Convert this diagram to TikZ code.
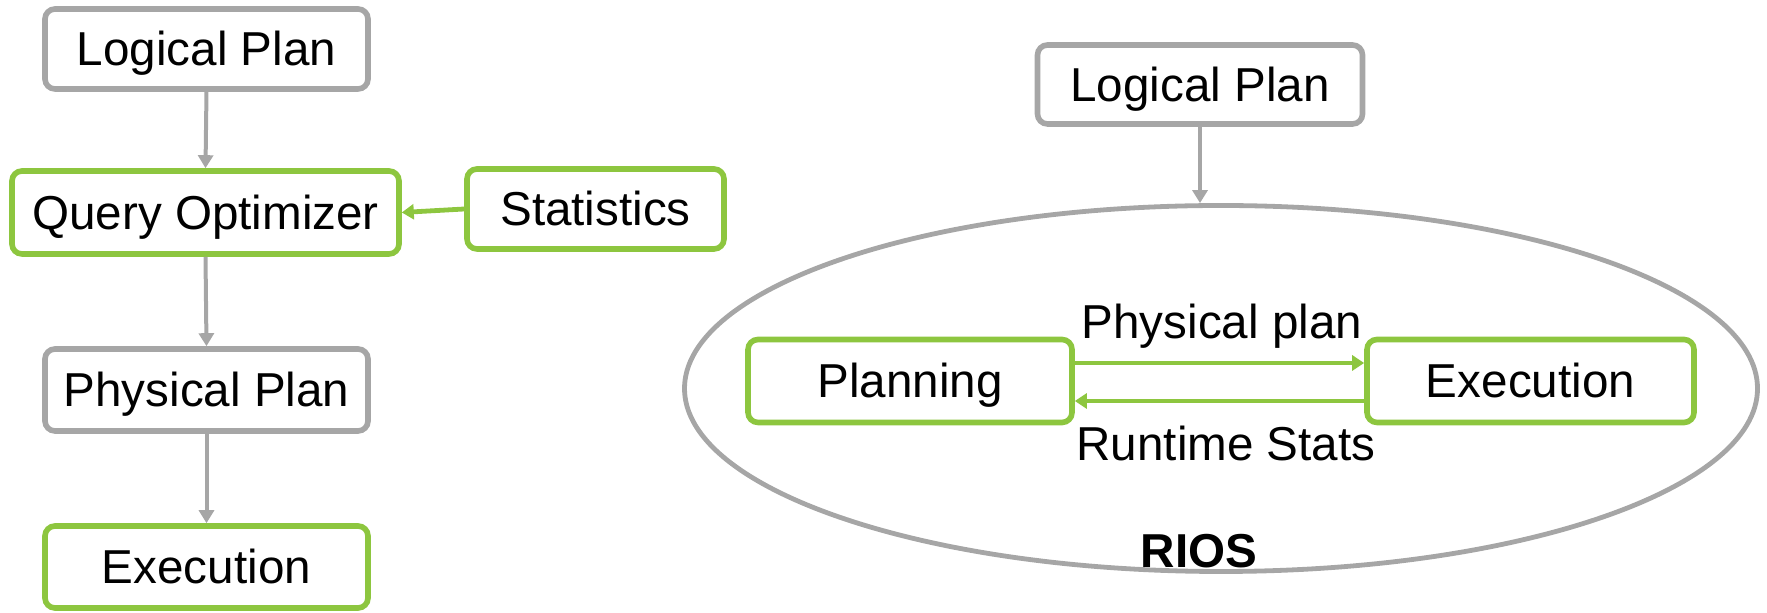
\documentclass[tikz,border=0pt]{standalone}
\usepackage{fontspec}
\setmainfont{Liberation Sans}
\usetikzlibrary{arrows.meta,shapes.geometric,calc}
\definecolor{boxgray}{HTML}{A6A6A6}
\definecolor{boxgreen}{HTML}{8DC63F}
\begin{document}
\begin{tikzpicture}[x=0.5pt,y=-0.5pt,
  font=\fontsize{23.8}{28}\selectfont,
  box/.style={draw, rounded corners=5pt, line width=2.8pt, inner sep=0pt,
    text height=17pt, text depth=0pt, align=center, fill=white},
  graybox/.style={box, draw=boxgray},
  greenbox/.style={box, draw=boxgreen},
  grayarrow/.style={draw=boxgray, line width=2pt,
    -{Triangle[length=6.5pt,width=7.5pt]}},
  greenarrow/.style={draw=boxgreen, line width=2.4pt,
    -{Triangle[length=6pt,width=7.5pt]}},
  label/.style={inner sep=0pt, anchor=base}]
\useasboundingbox (0,0) rectangle (1767,613);

% classic pipeline
\node[graybox, minimum width=161.5pt, minimum height=40pt] (lp1) at (206.5,49) {Logical Plan};
\node[greenbox, minimum width=193.5pt, minimum height=41.5pt] (qo) at (205.5,212.5) {Query Optimizer};
\node[greenbox, minimum width=128.5pt, minimum height=40pt] (stats) at (595.5,209) {Statistics};
\node[graybox, minimum width=161.5pt, minimum height=41pt] (pp) at (206.5,390) {Physical Plan};
\node[greenbox, minimum width=161.5pt, minimum height=41pt] (ex1) at (206.5,567) {Execution};

\draw[grayarrow] (lp1.south) -- (qo.north);
\draw[grayarrow] (qo.south) -- (pp.north);
\draw[grayarrow] (pp.south) -- (ex1.north);
\draw[greenarrow] (stats.west) -- (qo.east);

% RIOS loop
\node[draw=boxgray, line width=2.4pt, ellipse, inner sep=0pt,
  minimum width=536.5pt, minimum height=183pt] (rios) at (1221,388.5) {};
\node[graybox, minimum width=162.5pt, minimum height=39.5pt] (lp2) at (1200,84.5) {Logical Plan};
\node[greenbox, minimum width=162pt, minimum height=41.5pt] (plan) at (910,381) {Planning};
\node[greenbox, minimum width=163.5pt, minimum height=41.5pt] (ex2) at (1530.5,381) {Execution};

\draw[grayarrow] (lp2.south) -- (lp2.south |- rios.north);
\draw[greenarrow] ($(plan.east)+(0,-18)$) -- ($(ex2.west)+(0,-18)$);
\draw[greenarrow] ($(ex2.west)+(0,20)$) -- ($(plan.east)+(0,20)$);

\node[label] (pplabel) at (1222,339) {Physical plan};
\node[label] (rslabel) at (1226,461) {Runtime Stats};
\node[label, font=\fontsize{23.8}{28}\selectfont\bfseries] (rioslabel) at (1199,568) {RIOS};
\end{tikzpicture}
\end{document}
